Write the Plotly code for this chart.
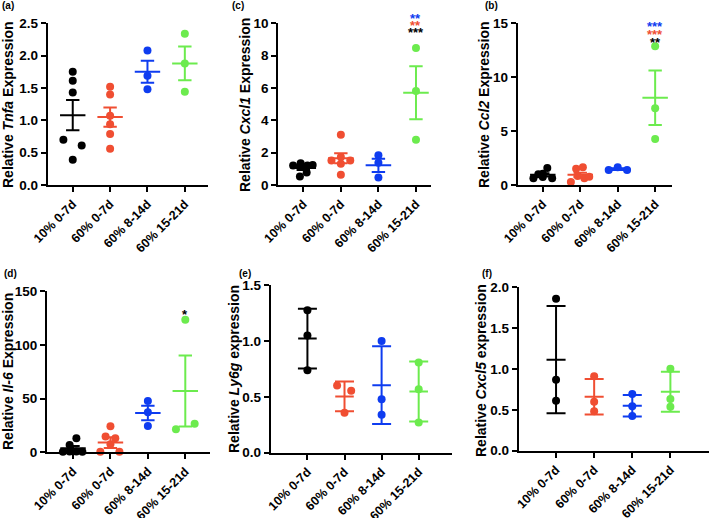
import plotly.graph_objects as go
from plotly.subplots import make_subplots

W, H = 709, 518
FONT = "Liberation Sans, Arial, sans-serif"

groups = ["10% 0-7d", "60% 0-7d", "60% 8-14d", "60% 15-21d"]
colors = ["#000000", "#F04E32", "#0E3CF0", "#6CEB4E"]

# (a) Tnfa - mean +/- SEM
tnfa_pts = [[1.75, 1.61, 1.43, 0.70, 0.61, 0.39],
            [1.52, 1.40, 1.07, 0.94, 0.79, 0.56],
            [2.08, 1.69, 1.48],
            [2.34, 1.88, 1.44]]
tnfa_dx = [[0, 0, 0, -0.25, 0.24, 0], [0, 0, 0, 0, 0, 0], [0, 0, 0], [0, 0, 0]]
tnfa_mean = [1.08, 1.05, 1.75, 1.88]
tnfa_err = [0.235, 0.15, 0.17, 0.26]

# (c) Cxcl1
cxcl1_pts = [[1.20, 1.34, 1.20, 1.24, 0.78, 0.52],
             [3.11, 1.51, 1.73, 1.51, 1.32, 0.64],
             [1.84, 1.38, 0.47],
             [8.47, 5.81, 2.80]]
cxcl1_dx = [[-0.27, -0.07, 0.11, 0.25, 0.09, -0.09], [0, -0.25, 0, 0.25, 0, 0], [0, 0, 0], [0, 0, 0]]
cxcl1_mean = [1.05, 1.65, 1.22, 5.71]
cxcl1_err = [0.13, 0.31, 0.41, 1.64]
cxcl1_stars = ["**", "**", "***"]
cxcl1_star_colors = [2, 1, 0]

# (b) Ccl2
ccl2_pts = [[0.62, 1.00, 1.05, 1.57, 0.62, 0.75],
            [0.28, 1.51, 1.64, 0.83, 0.62, 0.77],
            [1.39, 1.64, 1.39],
            [12.87, 7.13, 4.26]]
ccl2_dx = [[-0.25, -0.12, 0, 0.12, 0.25, 0], [-0.25, -0.11, 0.07, -0.07, 0.11, 0.24], [-0.24, 0, 0.25], [0, 0, 0]]
ccl2_mean = [0.94, 0.94, 1.47, 8.09]
ccl2_err = [0.15, 0.2, 0.08, 2.53]
ccl2_stars = ["***", "***", "**"]
ccl2_star_colors = [2, 1, 0]

# (d) Il-6
il6_pts = [[13.0, 6.8, 0.5, 0.8, 0.8, 0.6],
           [24.2, 14.6, 13.0, 7.4, 0.6, 0.6],
           [47.7, 37.2, 24.5],
           [123.3, 21.4, 26.6]]
il6_dx = [[0.09, -0.09, -0.27, -0.09, 0.09, 0.25], [0, -0.13, 0.13, 0, -0.27, 0.24], [0, 0, 0], [0, -0.25, 0.25]]
il6_mean = [3.7, 9.0, 36.6, 57.0]
il6_err = [2.1, 5.0, 6.8, 33.0]
il6_stars = ["*"]
il6_star_colors = [0]

# (e) Ly6g - mean +/- SD
ly6g_pts = [[1.274, 1.048, 0.738],
            [0.601, 0.554, 0.357],
            [1.000, 0.479, 0.339],
            [0.807, 0.568, 0.271]]
ly6g_dx = [[0, 0, 0], [-0.2, 0.18, 0], [0, 0, 0], [0, 0, 0]]
ly6g_mean = [1.021, 0.503, 0.604, 0.548]
ly6g_err = [0.267, 0.133, 0.348, 0.268]

# (f) Cxcl5
cxcl5_pts = [[1.861, 0.869, 0.612],
             [0.910, 0.600, 0.482],
             [0.694, 0.543, 0.424],
             [1.004, 0.633, 0.539]]
cxcl5_dx = [[0, 0, 0], [0, 0, 0], [0, 0, 0], [0, 0, 0]]
cxcl5_mean = [1.114, 0.661, 0.551, 0.722]
cxcl5_err = [0.657, 0.218, 0.131, 0.245]

panels = [
    dict(label="(a)", gene="Tnfa", word="Expression", pts=tnfa_pts, dx=tnfa_dx,
         mean=tnfa_mean, err=tnfa_err, ymax=2.5, dtick=0.5, fmt=".1f", stars=[], scol=[]),
    dict(label="(c)", gene="Cxcl1", word="Expression", pts=cxcl1_pts, dx=cxcl1_dx,
         mean=cxcl1_mean, err=cxcl1_err, ymax=10, dtick=2, fmt="d", stars=cxcl1_stars, scol=cxcl1_star_colors),
    dict(label="(b)", gene="Ccl2", word="Expression", pts=ccl2_pts, dx=ccl2_dx,
         mean=ccl2_mean, err=ccl2_err, ymax=15, dtick=5, fmt="d", stars=ccl2_stars, scol=ccl2_star_colors),
    dict(label="(d)", gene="Il-6", word="Expression", pts=il6_pts, dx=il6_dx,
         mean=il6_mean, err=il6_err, ymax=150, dtick=50, fmt="d", stars=il6_stars, scol=il6_star_colors),
    dict(label="(e)", gene="Ly6g", word="expression", pts=ly6g_pts, dx=ly6g_dx,
         mean=ly6g_mean, err=ly6g_err, ymax=1.5, dtick=0.5, fmt=".1f", stars=[], scol=[]),
    dict(label="(f)", gene="Cxcl5", word="expression", pts=cxcl5_pts, dx=cxcl5_dx,
         mean=cxcl5_mean, err=cxcl5_err, ymax=2.0, dtick=0.5, fmt=".1f", stars=[], scol=[]),
]

# layout in screen pixels: x domain, y domain (top, bottom), x range, mean half width, cap width,
# title centre, label centre, star heights (screen px from top)
geo = [
    dict(xd=(47.7, 208), yd=(23.3, 185), xr=(-0.67, 3.62), mw=0.34, cw=6.7, t=(8, 105), l=(8, 6), sy=[]),
    dict(xd=(278.3, 431), yd=(23.3, 185), xr=(-0.665, 3.40), mw=0.34, cw=6.7, t=(245, 105), l=(238, 6), sy=[15.7, 22, 29.3]),
    dict(xd=(517.7, 672), yd=(23.3, 185), xr=(-0.67, 3.45), mw=0.34, cw=6.7, t=(484, 105), l=(491, 6), sy=[23.3, 32, 40]),
    dict(xd=(47, 210), yd=(291, 452.3), xr=(-0.695, 3.66), mw=0.34, cw=6.7, t=(8, 372), l=(10, 273), sy=[311]),
    dict(xd=(270.7, 451.7), yd=(285, 452.7), xr=(-0.99, 3.89), mw=0.25, cw=9.5, t=(234, 369), l=(245, 273), sy=[]),
    dict(xd=(518.7, 708.5), yd=(287.3, 450.7), xr=(-0.98, 4.0), mw=0.25, cw=9.5, t=(481, 370), l=(487, 273), sy=[]),
]


def fx(px):
    return px / W


def fy(py):
    return 1 - py / H


fig = make_subplots(rows=2, cols=3)
annotations = []

for k, (p, g) in enumerate(zip(panels, geo)):
    row, col = k // 3 + 1, k % 3 + 1
    for i, c in enumerate(colors):
        fig.add_trace(go.Scatter(
            x=[i], y=[p["mean"][i]], mode="markers",
            marker=dict(size=2, color=c, opacity=0),
            error_y=dict(type="data", array=[p["err"][i]], width=g["cw"], thickness=2, color=c),
            error_x=dict(type="data", array=[g["mw"]], width=0, thickness=2, color=c),
            showlegend=False, hoverinfo="skip", cliponaxis=False), row=row, col=col)
        fig.add_trace(go.Scatter(
            x=[i + d for d in p["dx"][i]], y=p["pts"][i], mode="markers",
            marker=dict(size=8, color=c), showlegend=False, cliponaxis=False), row=row, col=col)

    sfx = "" if k == 0 else str(k + 1)
    fig.layout["xaxis" + sfx].update(
        domain=[fx(g["xd"][0]), fx(g["xd"][1])], range=list(g["xr"]),
        tickvals=[0, 1, 2, 3], ticktext=groups, tickangle=-45,
        tickfont=dict(family=FONT, size=12.5, color="black", weight="bold"))
    fig.layout["yaxis" + sfx].update(
        domain=[fy(g["yd"][1]), fy(g["yd"][0])], range=[0, p["ymax"]],
        dtick=p["dtick"], tick0=0, tickformat=p["fmt"],
        tickfont=dict(family=FONT, size=13.5, color="black", weight="bold"))

    annotations.append(dict(
        text="<b>Relative <i>%s</i> %s</b>" % (p["gene"], p["word"]),
        x=fx(g["t"][0]), y=fy(g["t"][1]), xref="paper", yref="paper",
        textangle=-90, showarrow=False, xanchor="center", yanchor="middle",
        font=dict(family=FONT, size=14, color="black")))
    annotations.append(dict(
        text="<b>%s</b>" % p["label"], x=fx(g["l"][0]), y=fy(g["l"][1]),
        xref="paper", yref="paper", showarrow=False, xanchor="center", yanchor="middle",
        font=dict(family=FONT, size=10, color="black")))
    for s, ci, sy in zip(p["stars"], p["scol"], g["sy"]):
        annotations.append(dict(
            text="<b>%s</b>" % s, x=3, y=fy(sy), xref="x" + sfx, yref="paper",
            showarrow=False, xanchor="center", yanchor="middle", yshift=-3,
            font=dict(family=FONT, size=13, color=colors[ci])))

axis_style = dict(showline=True, linecolor="black", linewidth=2, ticks="outside",
                  ticklen=5, tickwidth=2, tickcolor="black", showgrid=False, zeroline=False,
                  automargin=False)
fig.update_xaxes(**axis_style)
fig.update_yaxes(**axis_style)

fig.update_layout(
    width=W, height=H, margin=dict(l=0, r=0, t=0, b=0, autoexpand=False),
    plot_bgcolor="white", paper_bgcolor="white",
    annotations=annotations, showlegend=False)

# drop the default body margin so the figure sits at the page corner
fig.write_html("out.html", config={"displayModeBar": False},
               post_script="document.body.style.margin = '0';")
